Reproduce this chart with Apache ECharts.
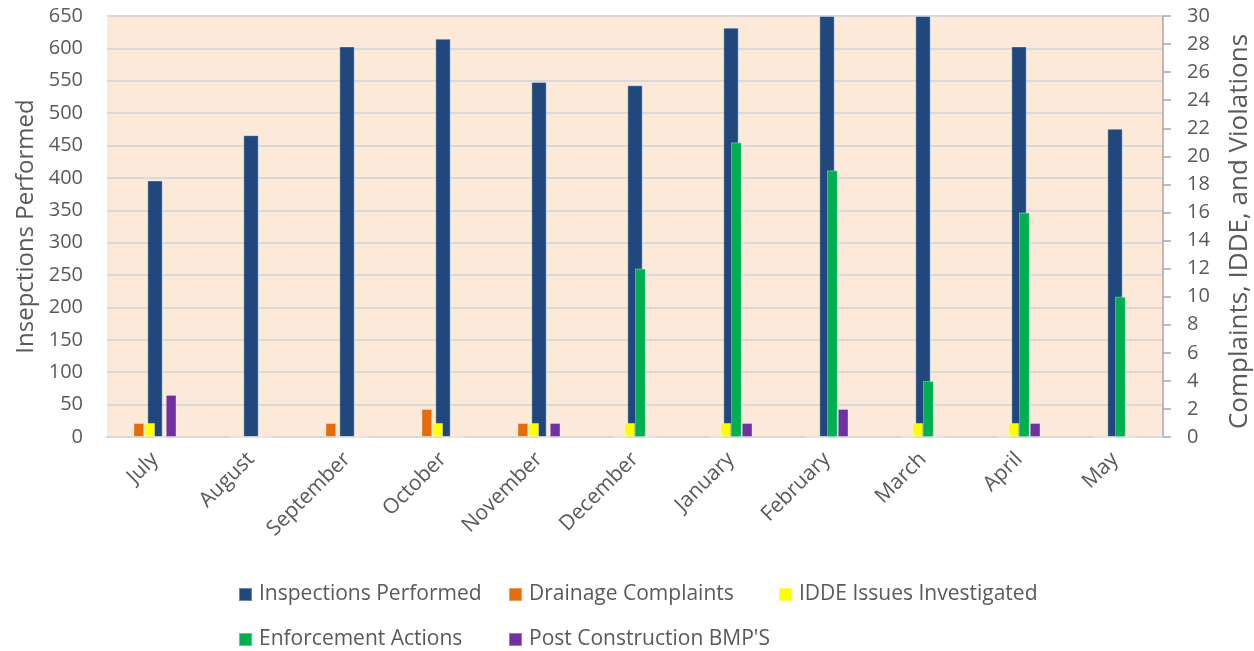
<!DOCTYPE html>
<html>
<head>
<meta charset="utf-8">
<script src="https://cdn.jsdelivr.net/npm/echarts@6/dist/echarts.min.js"></script>
<style>
html,body{margin:0;padding:0;background:#fff;}
#c{width:1254px;height:651px;}
</style>
</head>
<body>
<div id="c"></div>
<script>
const months = ['July','August','September','October','November','December','January','February','March','April','May'];
const inspections = [396, 466, 603, 615, 548, 543, 632, 650, 650, 603, 476];
const drainage = [1, 0, 1, 2, 1, 0, 0, 0, 0, 0, 0];
const idde = [1, 0, 0, 1, 1, 1, 1, 0, 1, 1, 0];
const enforcement = [0, 0, 0, 0, 0, 12, 21, 19, 4, 16, 10];
const postConstruction = [3, 0, 0, 0, 1, 0, 1, 2, 0, 1, 0];
const leftTicks = {min: 0, max: 650, interval: 50};
const rightTicks = {min: 0, max: 30, interval: 2};

const font = '"Open Sans", "DejaVu Sans", sans-serif';
const txt = '#595959';
const chart = echarts.init(document.getElementById('c'));

const barBorder = {borderColor: 'rgba(255,255,255,0.35)', borderWidth: 1};

function legendAt(name, left, top) {
  return {
    data: [name], left: left, top: top, orient: 'horizontal',
    icon: 'rect', itemWidth: 13, itemHeight: 13, itemGap: 0,
    padding: 0,
    textStyle: {fontFamily: font, fontSize: 21, color: txt, padding: [0, 0, 0, 2]}
  };
}

chart.setOption({
  animation: false,
  backgroundColor: '#ffffff',
  grid: {left: 107, right: 91, top: 16, bottom: 214, show: true, containLabel: false,
         outerBoundsMode: 'none',
         backgroundColor: '#FDE9D9', borderWidth: 0},
  legend: [
    legendAt('Inspections Performed', 238, 584),
    legendAt('Drainage Complaints', 508, 584),
    legendAt('IDDE Issues Investigated', 778, 584),
    legendAt('Enforcement Actions', 238, 629),
    legendAt("Post Construction BMP'S", 508, 629)
  ],
  xAxis: [
    {type: 'category', data: months, gridIndex: 0,
     axisLine: {show: true, lineStyle: {color: '#D9D9D9', width: 2}},
     axisTick: {show: false},
     axisLabel: {rotate: 45, fontFamily: font, fontSize: 21, color: txt, margin: 19, interval: 0}},
    {type: 'category', data: months, gridIndex: 0, show: false}
  ],
  yAxis: [
    {type: 'value', min: leftTicks.min, max: leftTicks.max, interval: leftTicks.interval,
     name: 'Insepctions Performed', nameLocation: 'middle', nameRotate: 90, nameGap: 69,
     nameTextStyle: {fontFamily: font, fontSize: 24, color: txt},
     axisLine: {show: false}, axisTick: {show: false},
     axisLabel: {fontFamily: font, fontSize: 20, color: txt, margin: 24},
     splitLine: {show: true, lineStyle: {color: '#D9D9D9', width: 2}}},
    {type: 'value', min: rightTicks.min, max: rightTicks.max, interval: rightTicks.interval, position: 'right',
     name: 'Complaints, IDDE, and Violations', nameLocation: 'middle', nameRotate: 90, nameGap: 64,
     nameTextStyle: {fontFamily: font, fontSize: 26, color: txt, padding: [0, 10, 0, 0]},
     axisLine: {show: true, lineStyle: {color: '#A6A6A6', width: 1.5}},
     axisTick: {show: true, inside: false, length: 8, lineStyle: {color: '#A6A6A6', width: 1.5}},
     axisLabel: {fontFamily: font, fontSize: 20, color: txt, margin: 24},
     splitLine: {show: false}}
  ],
  series: [
    {name: 'Inspections Performed', type: 'bar', xAxisIndex: 0, yAxisIndex: 0,
     data: inspections, barWidth: '16%', itemStyle: Object.assign({color: '#1F497D'}, barBorder)},
    {name: 'Drainage Complaints', type: 'bar', xAxisIndex: 1, yAxisIndex: 1,
     data: drainage, barWidth: '11.2%', barGap: '0%', itemStyle: Object.assign({color: '#E46C0A'}, barBorder)},
    {name: 'IDDE Issues Investigated', type: 'bar', xAxisIndex: 1, yAxisIndex: 1,
     data: idde, barWidth: '11.2%', barGap: '0%', itemStyle: Object.assign({color: '#FFFF00'}, barBorder)},
    {name: 'Enforcement Actions', type: 'bar', xAxisIndex: 1, yAxisIndex: 1,
     data: enforcement, barWidth: '11.2%', barGap: '0%', itemStyle: Object.assign({color: '#00B050'}, barBorder)},
    {name: "Post Construction BMP'S", type: 'bar', xAxisIndex: 1, yAxisIndex: 1,
     data: postConstruction, barWidth: '11.2%', barGap: '0%', itemStyle: Object.assign({color: '#7030A0'}, barBorder)}
  ]
});
</script>
</body>
</html>
